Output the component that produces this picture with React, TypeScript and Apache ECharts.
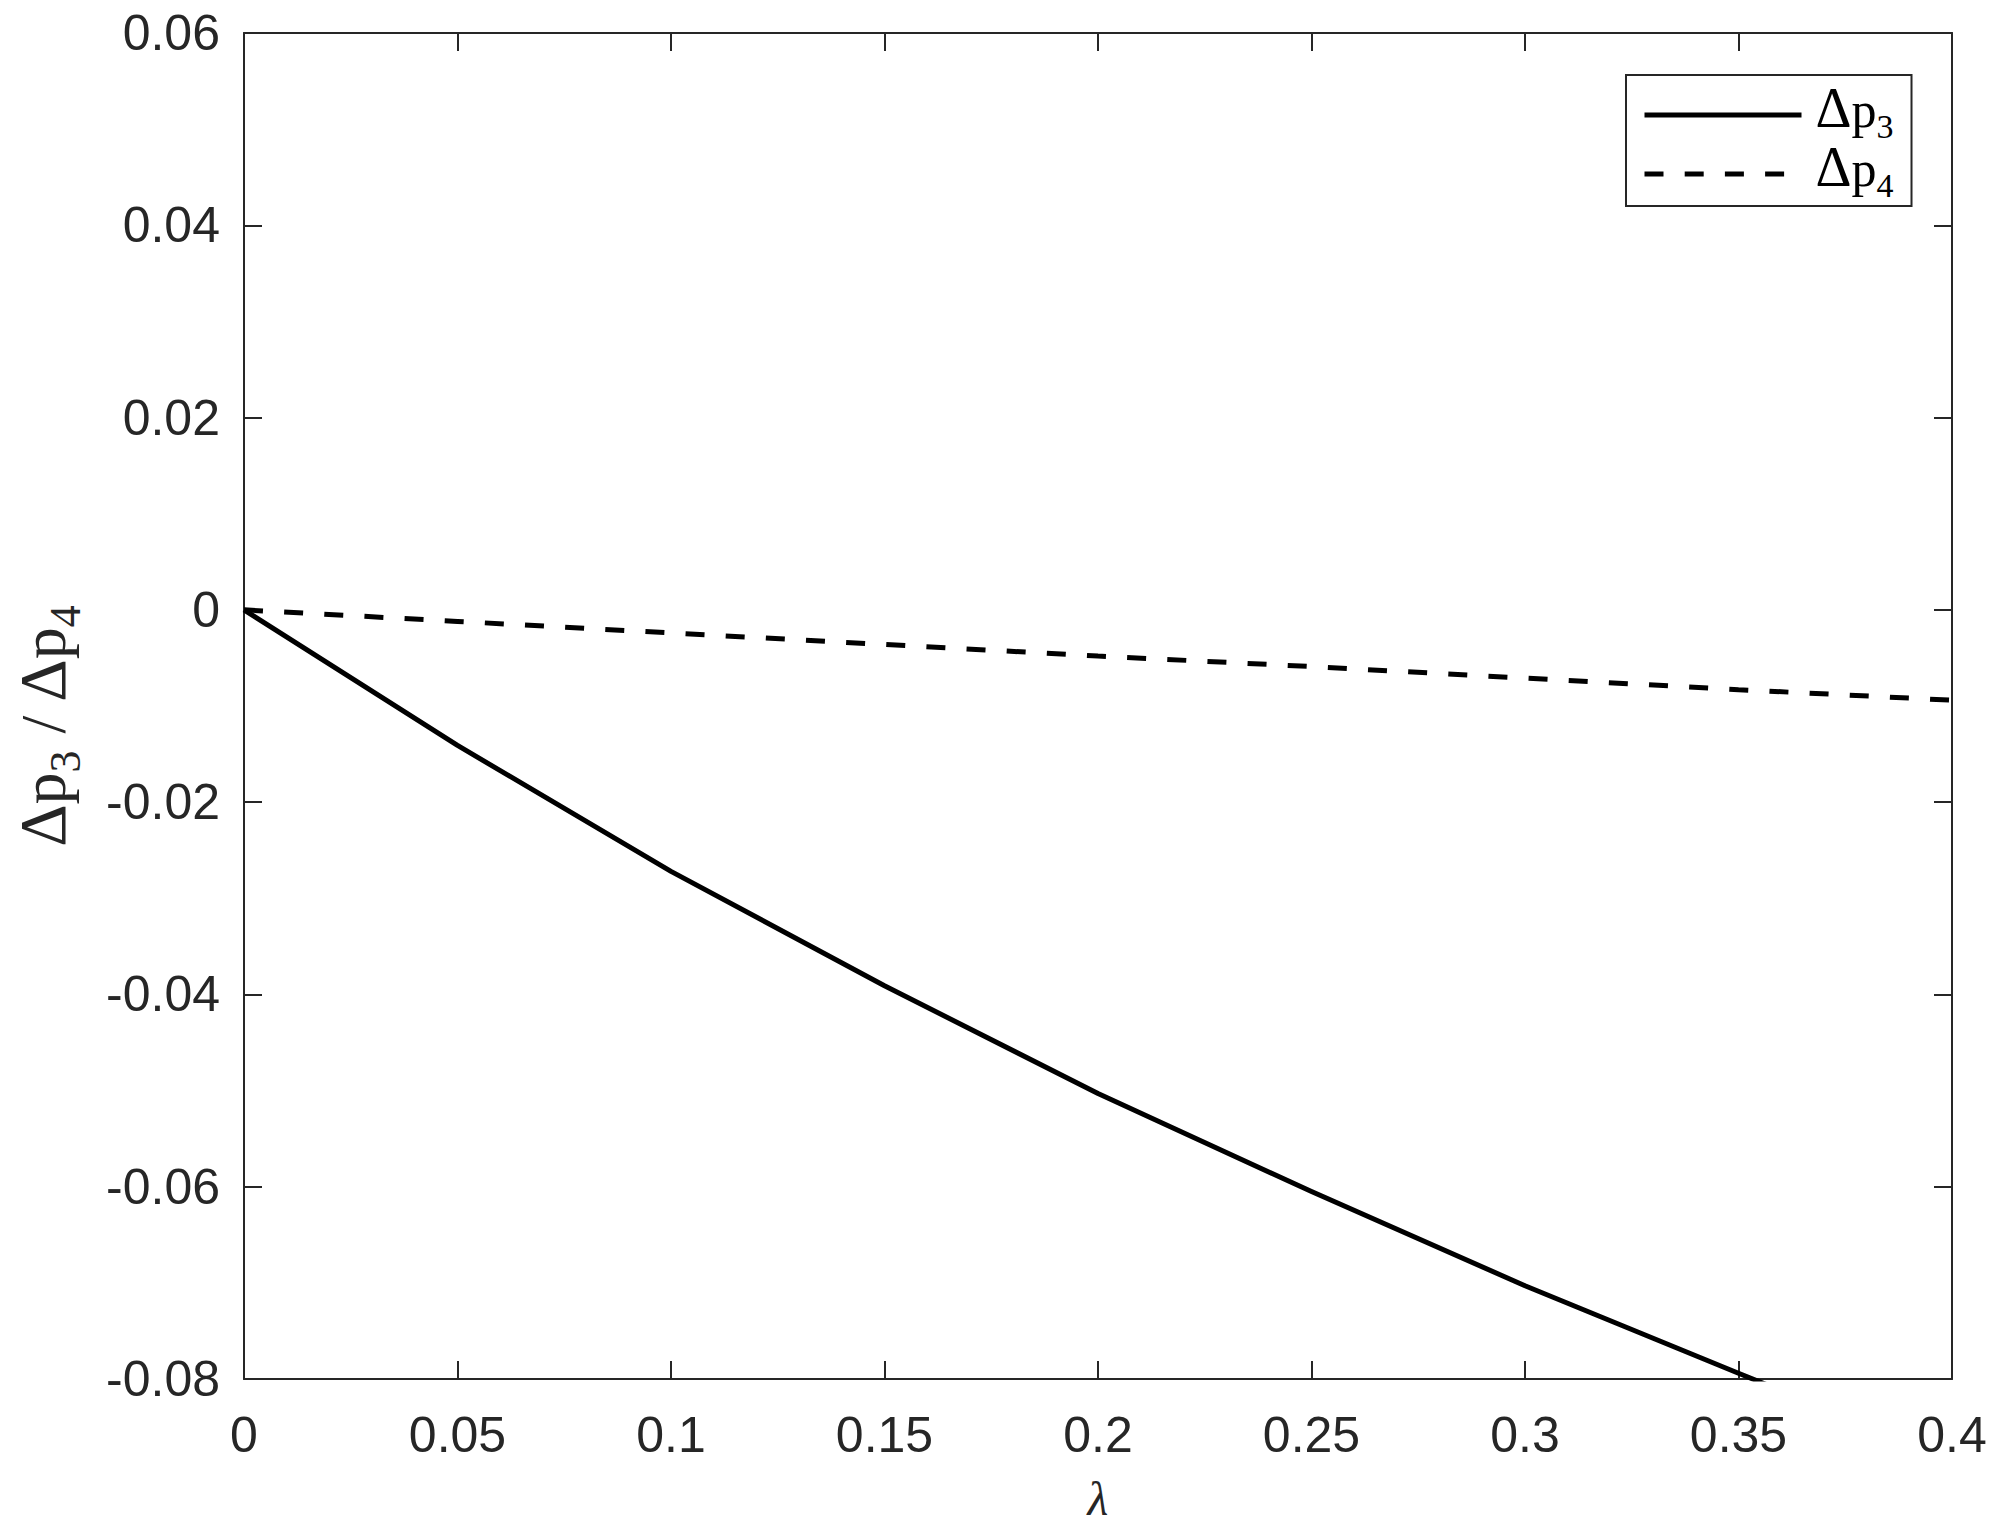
import React, { useEffect, useRef } from "react";
import * as echarts from "echarts";

const lambdaValues: number[] = [0, 0.05, 0.1, 0.15, 0.2, 0.25, 0.3, 0.35, 0.4];
const dp3Values: number[] = [0, -0.0141, -0.0272, -0.0391, -0.0503, -0.0605, -0.0703, -0.0794, -0.0884];
const dp4Values: number[] = [0, -0.0012, -0.0024, -0.0036, -0.0048, -0.0059, -0.0071, -0.0083, -0.0094];
const seriesNames: string[] = ["Δp3", "Δp4"];
const xAxisName = "λ";

const AXIS_COLOR = "#262626";
const SANS = "'Liberation Sans', Arial, Helvetica, sans-serif";
const SERIF = "'Liberation Serif', 'Times New Roman', serif";

const fmt = (v: number) => String(parseFloat(v.toFixed(4)));

export default function App() {
  const ref = useRef<HTMLDivElement>(null);

  useEffect(() => {
    if (!ref.current) return;
    const chart = echarts.init(ref.current, undefined, { renderer: "svg" });

    const pairs = (ys: number[]) => lambdaValues.map((x, i) => [x, ys[i]]);

    const axisLine = { show: true, onZero: false, lineStyle: { color: AXIS_COLOR, width: 2 } };
    const axisTick = { show: true, inside: true, length: 18, lineStyle: { color: AXIS_COLOR, width: 2 } };

    const option: any = {
      animation: false,
      backgroundColor: "#ffffff",
      grid: { left: 244, right: 48, top: 33, bottom: 159, containLabel: false, outerBoundsMode: "none" },
      legend: {
        orient: "vertical",
        left: 1626,
        top: 75,
        selectedMode: false,
        itemWidth: 157,
        itemHeight: 2,
        itemGap: -4,
        padding: [5, 18, 4, 16],
        borderColor: AXIS_COLOR,
        borderWidth: 2,
        backgroundColor: "#ffffff",
        data: seriesNames,
        lineStyle: { width: 5 },
        itemStyle: { opacity: 0 },
        formatter: (name: string) => {
          const sub = name.slice(2);
          return `{d0|Δ}{p|p}{s|${sub}}`;
        },
        textStyle: {
          color: "#000000",
          rich: {
            d0: { fontFamily: SERIF, fontSize: 56, lineHeight: 56, verticalAlign: "bottom", padding: [0, 0, 7, 9], color: "#000" },
            p: { fontFamily: SERIF, fontSize: 50, lineHeight: 50, verticalAlign: "bottom", padding: [0, 0, 8, 0], color: "#000" },
            s: { fontFamily: SERIF, fontSize: 34, lineHeight: 34, verticalAlign: "bottom", color: "#000" },
          },
        },
      },
      xAxis: [
        {
          type: "value",
          min: 0,
          max: 0.4,
          interval: 0.05,
          position: "bottom",
          name: xAxisName,
          nameLocation: "middle",
          nameGap: 95,
          nameTextStyle: { fontFamily: SERIF, fontStyle: "italic", fontSize: 48, color: AXIS_COLOR },
          axisLine,
          axisTick,
          splitLine: { show: false },
          axisLabel: { show: true, margin: 31, fontFamily: SANS, fontSize: 50, color: AXIS_COLOR, formatter: fmt },
        },
        {
          type: "value",
          min: 0,
          max: 0.4,
          interval: 0.05,
          position: "top",
          axisLine,
          axisTick,
          splitLine: { show: false },
          axisLabel: { show: false },
        },
      ],
      yAxis: [
        {
          type: "value",
          min: -0.08,
          max: 0.06,
          interval: 0.02,
          position: "left",
          name: "{d|Δ}{p|p}{s|3}{sl|/}{d|Δ}{p|p}{s4|4}",
          nameLocation: "middle",
          nameGap: 157,
          nameTextStyle: {
            color: AXIS_COLOR,
            rich: {
              d: { fontFamily: SERIF, fontSize: 66, lineHeight: 66, verticalAlign: "bottom", padding: [0, 0, 12, 0], color: AXIS_COLOR },
              p: { fontFamily: SERIF, fontSize: 64, lineHeight: 64, verticalAlign: "bottom", padding: [0, 0, 12, 0], color: AXIS_COLOR },
              sl: { fontFamily: SERIF, fontSize: 64, lineHeight: 64, verticalAlign: "bottom", padding: [0, 14, 12, 17], color: AXIS_COLOR },
              s: { fontFamily: SERIF, fontSize: 44, lineHeight: 44, verticalAlign: "bottom", color: AXIS_COLOR },
              s4: { fontFamily: SERIF, fontSize: 44, lineHeight: 44, verticalAlign: "bottom", padding: [0, 40, 0, 0], color: AXIS_COLOR },
            },
          },
          axisLine,
          axisTick,
          splitLine: { show: false },
          axisLabel: { show: true, margin: 24, fontFamily: SANS, fontSize: 50, color: AXIS_COLOR, formatter: fmt },
        },
        {
          type: "value",
          min: -0.08,
          max: 0.06,
          interval: 0.02,
          position: "right",
          axisLine,
          axisTick,
          splitLine: { show: false },
          axisLabel: { show: false },
        },
      ],
      series: [
        {
          name: seriesNames[0],
          type: "line",
          data: pairs(dp3Values),
          showSymbol: false,
          symbol: "none",
          clip: true,
          lineStyle: { color: "#000000", width: 5, type: "solid", join: "round" },
          itemStyle: { color: "#000000" },
        },
        {
          name: seriesNames[1],
          type: "line",
          data: pairs(dp4Values),
          showSymbol: false,
          symbol: "none",
          clip: true,
          lineStyle: { color: "#000000", width: 5, type: [19, 21.2], cap: "butt" },
          itemStyle: { color: "#000000" },
        },
      ],
    };

    chart.setOption(option);
    return () => chart.dispose();
  }, []);

  return (
    <div
      ref={ref}
      style={{ position: "absolute", left: 0, top: 0, width: 2000, height: 1538, background: "#fff" }}
    />
  );
}
